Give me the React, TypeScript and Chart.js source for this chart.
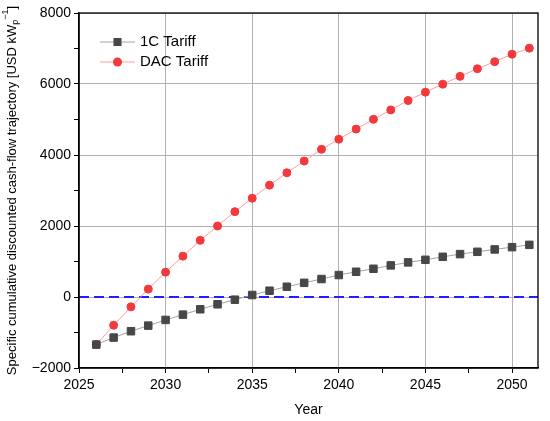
import React, { useEffect, useRef } from 'react';
import { Chart, registerables, ChartConfiguration, Plugin } from 'chart.js';
Chart.register(...registerables);

// values
const years = [
  2026, 2027, 2028, 2029, 2030, 2031, 2032, 2033, 2034, 2035, 2036, 2037, 2038,
  2039, 2040, 2041, 2042, 2043, 2044, 2045, 2046, 2047, 2048, 2049, 2050, 2051,
];
const tariff1C = [
  -1340, -1143, -964, -806, -646, -497, -346, -205, -76, 56, 177, 289, 400,
  506, 618, 711, 795, 890, 975, 1048, 1132, 1208, 1273, 1340, 1404, 1469,
];
const tariffDAC = [
  -1340, -795, -278, 222, 700, 1151, 1596, 2000, 2404, 2783, 3151, 3499, 3830,
  4160, 4445, 4730, 5005, 5270, 5535, 5770, 5995, 6215, 6430, 6630, 6840, 7010,
];
const xTickValues = [2025, 2027.5, 2030, 2032.5, 2035, 2037.5, 2040, 2042.5, 2045, 2047.5, 2050];
const yTickValues = [-2000, -1000, 0, 1000, 2000, 3000, 4000, 5000, 6000, 7000, 8000];
const seriesNames = ['1C Tariff', 'DAC Tariff'];

const FONT = '"Liberation Sans", Arial, sans-serif';
const GRID = '#b2b2b2';

const extras: Plugin = {
  id: 'extras',
  beforeDatasetsDraw(chart) {
    const { ctx, chartArea } = chart;
    const y0 = chart.scales.y.getPixelForValue(0);
    ctx.save();
    ctx.strokeStyle = '#1f1fff';
    ctx.lineWidth = 2;
    ctx.setLineDash([10, 5]);
    ctx.beginPath();
    ctx.moveTo(chartArea.left, y0);
    ctx.lineTo(chartArea.right, y0);
    ctx.stroke();
    ctx.restore();
  },
  afterDraw(chart) {
    const { ctx, chartArea } = chart;
    ctx.save();
    // frame
    ctx.strokeStyle = '#000';
    ctx.lineWidth = 1.3;
    ctx.strokeRect(chartArea.left, chartArea.top, chartArea.right - chartArea.left, chartArea.bottom - chartArea.top);

    // legend
    const rows = [
      { line: '#a3a3a3', fill: '#474747', square: true },
      { line: '#ff9c9c', fill: '#f2393c', square: false },
    ];
    rows.forEach((r, i) => {
      const y = chartArea.top + 29 + i * 20;
      const x = chartArea.left + 21;
      ctx.strokeStyle = r.line;
      ctx.lineWidth = 1;
      ctx.beginPath();
      ctx.moveTo(x, y);
      ctx.lineTo(x + 35, y);
      ctx.stroke();
      ctx.fillStyle = r.fill;
      if (r.square) {
        ctx.fillRect(x + 17.5 - 4, y - 4, 8, 8);
      } else {
        ctx.beginPath();
        ctx.arc(x + 17.5, y, 4.5, 0, Math.PI * 2);
        ctx.fill();
      }
      ctx.fillStyle = '#000';
      ctx.font = `15px ${FONT}`;
      ctx.textBaseline = 'middle';
      ctx.textAlign = 'left';
      ctx.fillText(seriesNames[i], x + 40, y);
    });

    // y axis title with subscript / superscript
    const parts = [
      { t: 'Specific cumulative discounted cash-flow trajectory [USD kW', size: 13, dy: 0 },
      { t: 'p', size: 9, dy: 4 },
      { t: '\u22121', size: 9, dy: -6 },
      { t: ']', size: 13, dy: 0 },
    ];
    let total = 0;
    parts.forEach((p) => {
      ctx.font = `${p.size}px ${FONT}`;
      total += ctx.measureText(p.t).width;
    });
    const cy = (chartArea.top + chartArea.bottom) / 2;
    ctx.translate(12, cy);
    ctx.rotate(-Math.PI / 2);
    ctx.fillStyle = '#000';
    ctx.textBaseline = 'middle';
    let px = -total / 2;
    parts.forEach((p) => {
      ctx.font = `${p.size}px ${FONT}`;
      ctx.fillText(p.t, px, p.dy);
      px += ctx.measureText(p.t).width;
    });
    ctx.restore();
  },
};

const config: ChartConfiguration<'line'> = {
  type: 'line',
  data: {
    datasets: [
      {
        label: seriesNames[0],
        data: years.map((x, i) => ({ x, y: tariff1C[i] })),
        borderColor: '#a3a3a3',
        borderWidth: 1,
        pointStyle: 'rect',
        pointRadius: 5.3,
        pointBackgroundColor: '#474747',
        pointBorderColor: '#474747',
        pointBorderWidth: 1,
      },
      {
        label: seriesNames[1],
        data: years.map((x, i) => ({ x, y: tariffDAC[i] })),
        borderColor: '#ff9c9c',
        borderWidth: 1,
        pointStyle: 'circle',
        pointRadius: 4,
        pointBackgroundColor: '#f2393c',
        pointBorderColor: '#f2393c',
        pointBorderWidth: 1,
      },
    ],
  },
  options: {
    responsive: false,
    animation: false,
    layout: { padding: { left: 0, top: 13, right: 12, bottom: 0 } },
    plugins: { legend: { display: false }, tooltip: { enabled: false } },
    scales: {
      x: {
        type: 'linear',
        min: 2025,
        max: 2051.5,
        afterBuildTicks: (scale) => {
          scale.ticks = xTickValues.map((value) => ({ value }));
        },
        afterFit: (scale) => {
          scale.height = 53;
        },
        grid: {
          color: (c) => (c.tick && c.tick.value % 5 === 0 ? GRID : 'rgba(0,0,0,0)'),
          tickColor: '#000',
          tickLength: 5,
        },
        border: { color: '#000', width: 1.3 },
        ticks: {
          autoSkip: false,
          maxRotation: 0,
          padding: 4,
          color: '#000',
          font: { family: FONT, size: 14 },
          callback: (v) => (Number(v) % 5 === 0 ? String(v) : ''),
        },
        title: {
          display: true,
          text: 'Year',
          color: '#000',
          font: { family: FONT, size: 14 },
          padding: { top: 0, bottom: 2 },
        },
      },
      y: {
        type: 'linear',
        min: -2000,
        max: 8000,
        afterBuildTicks: (scale) => {
          scale.ticks = yTickValues.map((value) => ({ value }));
        },
        afterFit: (scale) => {
          scale.width = 79;
        },
        grid: {
          color: (c) => (c.tick && c.tick.value % 2000 === 0 ? GRID : 'rgba(0,0,0,0)'),
          tickColor: '#000',
          tickLength: 5,
        },
        border: { color: '#000', width: 1.3 },
        ticks: {
          autoSkip: false,
          padding: 3,
          color: '#000',
          font: { family: FONT, size: 14 },
          callback: (v) => (Number(v) % 2000 === 0 ? String(v).replace('-', '\u2212') : ''),
        },
      },
    },
  },
  plugins: [extras],
};

const App: React.FC = () => {
  const canvasRef = useRef<HTMLCanvasElement>(null);
  const chartRef = useRef<Chart<'line'> | null>(null);

  useEffect(() => {
    document.body.style.margin = '0';
    if (!canvasRef.current) return;
    const ctx = canvasRef.current.getContext('2d');
    if (!ctx) return;

    if (chartRef.current) {
      chartRef.current.destroy();
    }
    chartRef.current = new Chart(ctx, config);

    return () => {
      if (chartRef.current) {
        chartRef.current.destroy();
        chartRef.current = null;
      }
    };
  }, []);

  return (
    <div style={{ width: 550, height: 421, background: '#fff' }}>
      <canvas ref={canvasRef} width={550} height={421}></canvas>
    </div>
  );
};

export default App;
